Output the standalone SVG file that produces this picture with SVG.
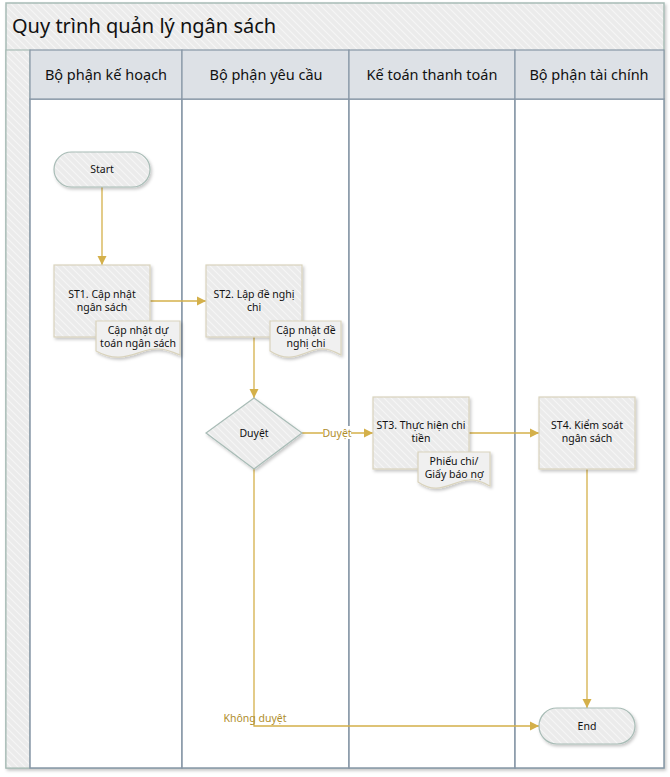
<svg xmlns="http://www.w3.org/2000/svg" width="670" height="777" viewBox="0 0 670 777">
<defs>
<pattern id="hatch" patternUnits="userSpaceOnUse" width="7" height="7">
<rect width="7" height="7" fill="#ebebeb"/>
<path d="M-1,-1 L8,8 M-1,6 L1,8 M6,-1 L8,1" stroke="#f6f6f6" stroke-width="1.2"/>
</pattern>
<filter id="sh" x="-20%" y="-20%" width="150%" height="150%">
<feDropShadow dx="1.5" dy="2" stdDeviation="1.5" flood-color="#000" flood-opacity="0.22"/>
</filter>
<marker id="arr" markerWidth="10" markerHeight="10" refX="9" refY="5" orient="auto" markerUnits="userSpaceOnUse">
<path d="M0,0.5 L9,5 L0,9.5 Z" fill="#d4b04a"/>
</marker>
<style>
.t{font-family:"Noto Sans","Open Sans","DejaVu Sans",sans-serif;fill:#111}
.title{font-size:20px}
.hd{font-size:14.5px;text-anchor:middle}
.nt{font-size:10.5px;text-anchor:middle}
.lbl{font-family:"Noto Sans","Open Sans",sans-serif;font-size:10.5px;fill:#b08e2c}
.lane{fill:#fff;stroke:#8797a6;stroke-width:1.5}
.hdr{fill:#dde1e6;stroke:#8797a6;stroke-width:1.2}
.proc{fill:url(#hatch);stroke:#d9d3bd;stroke-width:1.2;filter:url(#sh)}
.term{fill:url(#hatch);stroke:#a8bcb6;stroke-width:1.2;filter:url(#sh)}
.doc{fill:#f0f0f0;stroke:#d9d3bd;stroke-width:1.2;filter:url(#sh)}
.con{fill:none;stroke:#d4b04a;stroke-width:1.3}
</style>
</defs>

<g id="pool">
<rect x="6" y="3" width="658" height="765" fill="url(#hatch)" stroke="#a8bcb6" stroke-width="1.5" filter="url(#sh)"/>
<text class="t title" x="12" y="33">Quy trình quản lý ngân sách</text>
<rect x="6" y="50" width="24" height="718" fill="url(#hatch)" stroke="#a8bcb6" stroke-width="1.2"/>
</g>

<g id="lane1">
<rect class="lane" x="30" y="99" width="152" height="669"/>
<rect class="hdr" x="30" y="50" width="152" height="49"/>
<text class="t hd" x="106" y="80">Bộ phận kế hoạch</text>
</g>
<g id="lane2">
<rect class="lane" x="182" y="99" width="167" height="669"/>
<rect class="hdr" x="182" y="50" width="167" height="49"/>
<text class="t hd" x="266" y="80">Bộ phận yêu cầu</text>
</g>
<g id="lane3">
<rect class="lane" x="349" y="99" width="166" height="669"/>
<rect class="hdr" x="349" y="50" width="166" height="49"/>
<text class="t hd" x="432" y="80">Kế toán thanh toán</text>
</g>
<g id="lane4">
<rect class="lane" x="515" y="99" width="149" height="669"/>
<rect class="hdr" x="515" y="50" width="149" height="49"/>
<text class="t hd" x="589" y="80">Bộ phận tài chính</text>
</g>

<g id="connectors">
<path class="con" d="M102,187 V265" marker-end="url(#arr)"/>
<path class="con" d="M150,301 H206" marker-end="url(#arr)"/>
<path class="con" d="M254,337 V398" marker-end="url(#arr)"/>
<path class="con" d="M302,433 H373" marker-end="url(#arr)"/>
<path class="con" d="M469,433 H539" marker-end="url(#arr)"/>
<path class="con" d="M587,469 V708" marker-end="url(#arr)"/>
<path class="con" d="M254,469 V726 H539" marker-end="url(#arr)"/>
<rect x="323" y="426" width="28" height="13" fill="#fff"/>
<text class="lbl" x="337" y="437" text-anchor="middle">Duyệt</text>
<text class="lbl" x="255" y="722" text-anchor="middle">Không duyệt</text>
</g>

<g id="start">
<rect class="term" x="54" y="152" width="96" height="35" rx="17.5"/>
<text class="t nt" x="102" y="173">Start</text>
</g>

<g id="st1">
<rect class="proc" x="54" y="265" width="96" height="72"/>
<text class="t nt" x="102" y="298">ST1. Cập nhật</text>
<text class="t nt" x="102" y="311">ngân sách</text>
</g>
<g id="doc1">
<path class="doc" d="M96,321 H180 V355 C170,351 160,346 144,351 C128,356 116,362 96,351 Z"/>
<text class="t nt" x="138" y="334">Cập nhật dự</text>
<text class="t nt" x="138" y="347">toán ngân sách</text>
</g>

<g id="st2">
<rect class="proc" x="206" y="265" width="96" height="72"/>
<text class="t nt" x="254" y="298">ST2. Lập đề nghị</text>
<text class="t nt" x="254" y="311">chi</text>
</g>
<g id="doc2">
<path class="doc" d="M270,321 H341 V355 C333,351 325,346 311,351 C297,356 287,362 270,351 Z"/>
<text class="t nt" x="306" y="334">Cập nhật đề</text>
<text class="t nt" x="306" y="347">nghị chi</text>
</g>

<g id="duyet">
<path class="term" d="M254,398 L302,433 L254,469 L206,433 Z"/>
<text class="t nt" x="254" y="437">Duyệt</text>
</g>

<g id="st3">
<rect class="proc" x="373" y="397" width="96" height="72"/>
<text class="t nt" x="421" y="429">ST3. Thực hiện chi</text>
<text class="t nt" x="421" y="442">tiền</text>
</g>
<g id="doc3">
<path class="doc" d="M418,452 H490 V486 C482,482 474,477 459,482 C444,487 434,493 418,482 Z"/>
<text class="t nt" x="454" y="465">Phiếu chi/</text>
<text class="t nt" x="454" y="478">Giấy báo nợ</text>
</g>

<g id="st4">
<rect class="proc" x="539" y="397" width="96" height="72"/>
<text class="t nt" x="587" y="429">ST4. Kiểm soát</text>
<text class="t nt" x="587" y="442">ngân sách</text>
</g>

<g id="end">
<rect class="term" x="539" y="708" width="96" height="36" rx="18"/>
<text class="t nt" x="587" y="730">End</text>
</g>
</svg>
